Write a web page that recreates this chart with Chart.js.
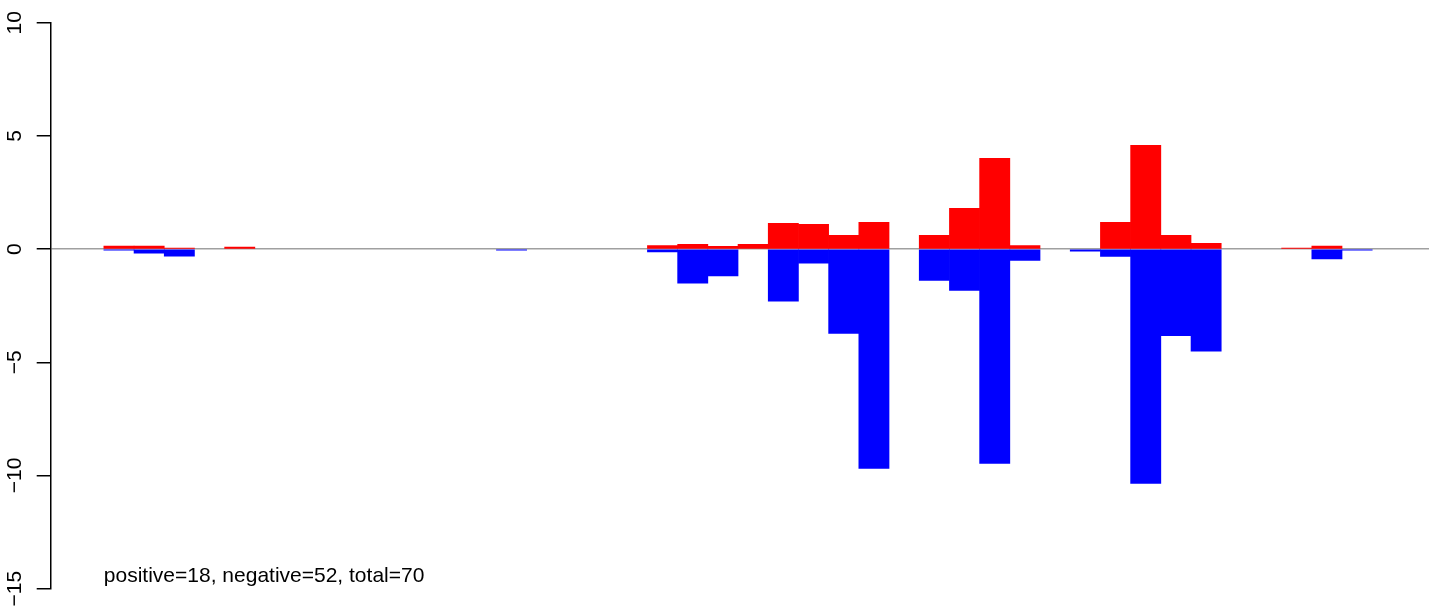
<!DOCTYPE html>
<html>
<head>
<meta charset="utf-8">
<script src="https://cdn.jsdelivr.net/npm/chart.js@4/dist/chart.umd.min.js"></script>
<style>
  html, body { margin: 0; padding: 0; background: #fff; overflow: hidden; }
  #wrap { width: 1429px; height: 606px; position: relative; }
</style>
</head>
<body>
<div id="wrap"><canvas id="chart"></canvas></div>
<script>
// bar values, one per slot (null = nothing drawn)
const positiveValues = [
    0.13, 0.13, 0.04, null, 0.09, null, null, null, null, null,
    null, null, null, null, null, null, null, null, 0.16, 0.21,
    0.12, 0.21, 1.14, 1.09, 0.61, 1.18, null, 0.61, 1.80, 4.01,
    0.16, null, null, 1.18, 4.58, 0.61, 0.25, null, null, 0.05,
    0.13, null, null, null
];
const negativeValues = [
    -0.05, -0.18, -0.31, null, null, null, null, null, null, null,
    null, null, null, -0.05, null, null, null, null, -0.13, -1.50,
    -1.19, null, -2.30, -0.62, -3.72, -9.69, null, -1.38, -1.83, -9.47,
    -0.50, null, -0.09, -0.32, -10.35, -3.82, -4.51, null, null, null,
    -0.43, -0.05, null, null
];
const yTicks = [-15, -10, -5, 0, 5, 10];
const positiveCount = 18;
const negativeCount = 52;
const totalCount = 70;

const FONT = "'Liberation Sans', Arial, Helvetica, sans-serif";

function toPoints(values) {
    return values.map(function (v, i) {
        return { x: i + 0.5, y: v };
    });
}

// summary text written inside the plot, bottom left
const summaryPlugin = {
    id: "summary",
    afterDatasetsDraw: function (chart) {
        const ctx = chart.ctx;
        const x = chart.scales.x.getPixelForValue(0);
        const y = chart.scales.y.getPixelForValue(-14.7);
        ctx.save();
        ctx.fillStyle = "#000";
        ctx.font = "21px " + FONT;
        ctx.textAlign = "left";
        ctx.textBaseline = "alphabetic";
        ctx.fillText(
            "positive=" + positiveCount + ", negative=" + negativeCount + ", total=" + totalCount,
            x, y
        );
        ctx.restore();
    }
};

const ctx = document.getElementById("chart").getContext("2d");
new Chart(ctx, {
    type: "bar",
    data: {
        datasets: [
            {
                label: "negative",
                data: toPoints(negativeValues),
                backgroundColor: "#0000FF",
                borderWidth: 0,
                grouped: false,
                barPercentage: 1,
                categoryPercentage: 1
            },
            {
                label: "positive",
                data: toPoints(positiveValues),
                backgroundColor: "#FF0000",
                borderWidth: 0,
                grouped: false,
                barPercentage: 1,
                categoryPercentage: 1
            }
        ]
    },
    options: {
        responsive: true,
        maintainAspectRatio: false,
        animation: false,
        layout: {
            padding: { top: 22.7, bottom: 17.3, left: 0, right: 0 }
        },
        plugins: {
            legend: { display: false },
            tooltip: { enabled: false }
        },
        scales: {
            x: {
                type: "linear",
                display: false,
                offset: false,
                grid: { offset: false },
                min: -1.76,
                max: 43.88,
                ticks: { stepSize: 10 }
            },
            y: {
                min: -15,
                max: 10,
                afterFit: function (scale) {
                    scale.width = 50.7;
                },
                afterBuildTicks: function (scale) {
                    scale.ticks = yTicks.map(function (v) { return { value: v }; });
                },
                border: { display: true, color: "#000", width: 1.5 },
                grid: {
                    drawTicks: true,
                    tickLength: 14,
                    tickColor: "#000",
                    tickWidth: 1.5,
                    color: function (c) {
                        return c.tick && c.tick.value === 0 ? "#a0a0a0" : "rgba(0,0,0,0)";
                    },
                    lineWidth: 1.5
                },
                ticks: {
                    minRotation: 90,
                    maxRotation: 90,
                    crossAlign: "center",
                    padding: 3.5,
                    color: "#000",
                    font: { family: FONT, size: 21 },
                    callback: function (v) {
                        return String(v).replace("-", "\u2212");
                    }
                }
            }
        }
    },
    plugins: [summaryPlugin]
});
</script>
</body>
</html>
